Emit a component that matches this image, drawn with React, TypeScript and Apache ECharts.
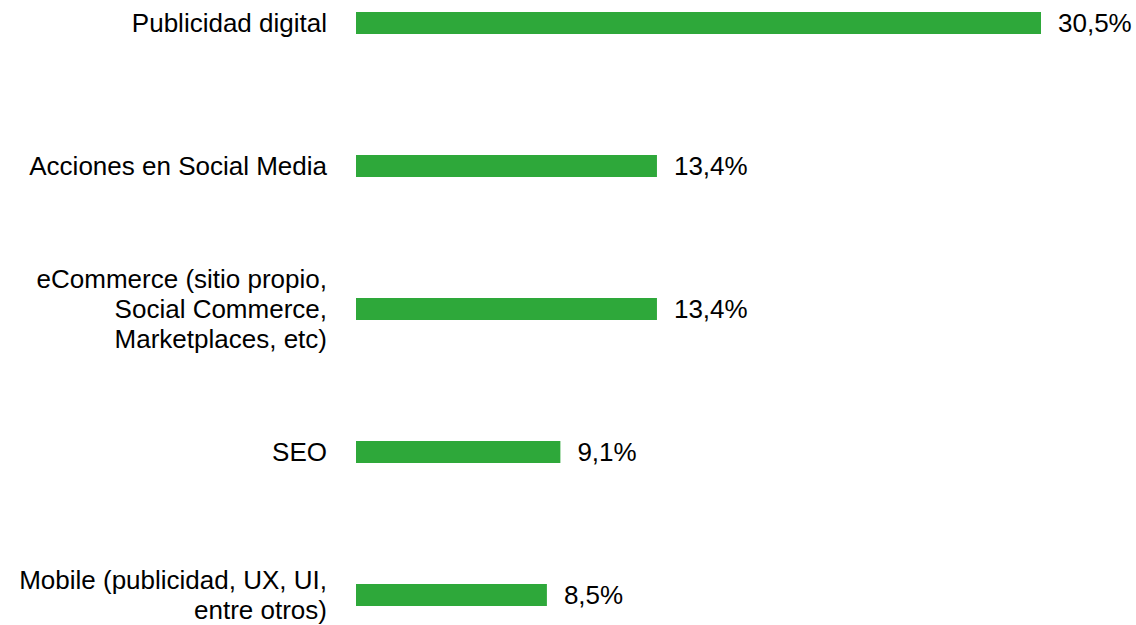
import React, { useEffect, useRef } from "react";
import * as echarts from "echarts";

const categories = [
  "Publicidad digital",
  "Acciones en Social Media",
  "eCommerce (sitio propio,\nSocial Commerce,\nMarketplaces, etc)",
  "SEO",
  "Mobile (publicidad, UX, UI,\nentre otros)",
];
const values = [30.5, 13.4, 13.4, 9.1, 8.5];

export default function App() {
  const ref = useRef<HTMLDivElement>(null);
  useEffect(() => {
    if (!ref.current) return;
    const chart = echarts.init(ref.current, null, { renderer: "svg" });
    chart.setOption({
      animation: false,
      textStyle: { fontFamily: "Liberation Sans, Arial, sans-serif" },
      grid: { left: 356, width: 685, top: 23, bottom: 28, containLabel: false },
      xAxis: {
        type: "value",
        min: 0,
        max: 30.5,
        show: false,
      },
      yAxis: {
        type: "category",
        data: categories,
        inverse: true,
        boundaryGap: false,
        axisLine: { show: false },
        axisTick: { show: false },
        splitLine: { show: false },
        axisLabel: {
          color: "#000",
          fontSize: 26,
          lineHeight: 30,
          margin: 29,
          align: "right",
          fontFamily: "Liberation Sans, Arial, sans-serif",
        },
      },
      series: [
        {
          type: "bar",
          data: values,
          barWidth: 22,
          itemStyle: { color: "#2EA83A" },
          label: {
            show: true,
            position: "right",
            distance: 17,
            color: "#000",
            fontSize: 26,
            fontFamily: "Liberation Sans, Arial, sans-serif",
            formatter: (p: any) => String(p.value).replace(".", ",") + "%",
          },
        },
      ],
    });
    return () => chart.dispose();
  }, []);
  return (
    <div
      ref={ref}
      style={{ position: "fixed", left: 0, top: 0, width: 1136, height: 625, background: "#fff" }}
    />
  );
}
